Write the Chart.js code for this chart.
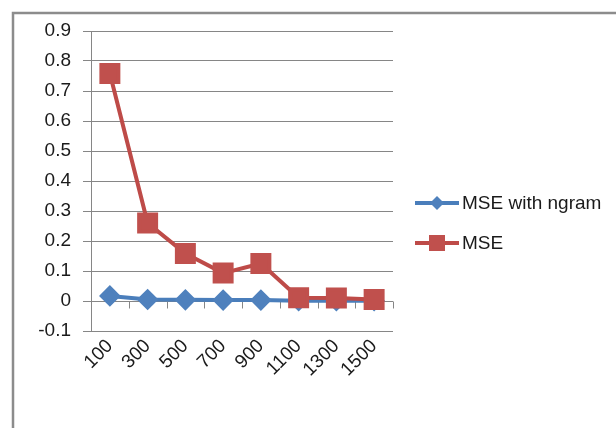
<!DOCTYPE html>
<html>
<head>
<meta charset="utf-8">
<script src="https://cdn.jsdelivr.net/npm/chart.js@4"></script>
<style>
  html, body { margin: 0; padding: 0; background: #fff; }
  #wrap { width: 616px; height: 428px; position: relative; }
</style>
</head>
<body>
<div id="wrap"><canvas id="mse"></canvas></div>
<script>
const categories = ["100", "300", "500", "700", "900", "1100", "1300", "1500"];
const mseNgram = [0.017, 0.005, 0.004, 0.003, 0.003, 0.001, 0.001, 0.001];
const mse = [0.758, 0.26, 0.158, 0.093, 0.125, 0.011, 0.01, 0.005];
const seriesNames = ["MSE with ngram", "MSE"];

const BLUE = "#4a7ebb";
const RED = "#be4b48";
const GRID = "#868686";
const FONT = "'Liberation Sans', Arial, sans-serif";

// gray frame around the whole chart object
const framePlugin = {
  id: "framePlugin",
  beforeDraw(chart) {
    const { ctx } = chart;
    ctx.save();
    ctx.strokeStyle = "#8c8c8c";
    ctx.lineWidth = 2.5;
    ctx.strokeRect(13, 13, 800, 600);
    ctx.restore();
  },
};

// small category ticks hanging under the zero line
const zeroTicksPlugin = {
  id: "zeroTicksPlugin",
  beforeDatasetsDraw(chart) {
    const { ctx, scales } = chart;
    const x = scales.x;
    const y0 = Math.round(scales.y.getPixelForValue(0)) + 0.5;
    const step = x.width / categories.length;
    ctx.save();
    ctx.strokeStyle = GRID;
    ctx.lineWidth = 1;
    ctx.beginPath();
    for (let i = 1; i <= categories.length; i++) {
      const px = Math.round(x.left + step * i) + 0.5;
      ctx.moveTo(px, y0);
      ctx.lineTo(px, y0 + 7);
    }
    ctx.stroke();
    ctx.restore();
  },
};

// Excel-style legend on the right
const sideLegendPlugin = {
  id: "sideLegendPlugin",
  afterDraw(chart) {
    const { ctx } = chart;
    const rows = [
      { y: 203, ds: chart.data.datasets[0] },
      { y: 243, ds: chart.data.datasets[1] },
    ];
    ctx.save();
    rows.forEach(({ y, ds }) => {
      ctx.strokeStyle = ds.borderColor;
      ctx.lineWidth = 4;
      ctx.beginPath();
      ctx.moveTo(415, y);
      ctx.lineTo(459, y);
      ctx.stroke();
      ctx.fillStyle = ds.pointBackgroundColor;
      if (ds.pointStyle === "rect") {
        ctx.fillRect(437 - 8, y - 8, 16, 16);
      } else {
        ctx.beginPath();
        ctx.moveTo(437, y - 7);
        ctx.lineTo(444, y);
        ctx.lineTo(437, y + 7);
        ctx.lineTo(430, y);
        ctx.closePath();
        ctx.fill();
      }
      ctx.fillStyle = "#1a1a1a";
      ctx.font = "19px " + FONT;
      ctx.textBaseline = "middle";
      ctx.textAlign = "left";
      ctx.fillText(ds.label, 462, y + 1);
    });
    ctx.restore();
  },
};

new Chart(document.getElementById("mse"), {
  type: "line",
  data: {
    labels: categories,
    datasets: [
      {
        label: seriesNames[0],
        data: mseNgram,
        borderColor: BLUE,
        backgroundColor: BLUE,
        pointBackgroundColor: "#4f81bd",
        pointBorderColor: "#4f81bd",
        pointStyle: "rectRot",
        pointRadius: 8,
        borderWidth: 4,
        tension: 0,
        order: 1,
      },
      {
        label: seriesNames[1],
        data: mse,
        borderColor: RED,
        backgroundColor: RED,
        pointBackgroundColor: "#c0504d",
        pointBorderColor: "#c0504d",
        pointStyle: "rect",
        pointRadius: 12,
        borderWidth: 4,
        tension: 0,
        order: 0,
      },
    ],
  },
  options: {
    responsive: true,
    maintainAspectRatio: false,
    animation: false,
    layout: {
      padding: { top: 31, right: 223, bottom: 0, left: 0 },
    },
    plugins: {
      legend: { display: false },
      tooltip: { enabled: false },
    },
    scales: {
      x: {
        offset: true,
        grid: { display: false, drawTicks: false },
        border: { display: false },
        ticks: {
          autoSkip: false,
          minRotation: 45,
          maxRotation: 45,
          padding: 4,
          color: "#1a1a1a",
          font: { family: FONT, size: 19 },
        },
        afterFit: (scale) => {
          scale.height = 97;
        },
      },
      y: {
        min: -0.1,
        max: 0.9,
        grid: {
          color: GRID,
          lineWidth: 1,
          tickLength: 8,
        },
        border: { display: true, color: GRID, width: 1 },
        ticks: {
          stepSize: 0.1,
          padding: 12,
          color: "#1a1a1a",
          font: { family: FONT, size: 19 },
          callback: (v) => (Math.abs(v) < 1e-9 ? "0" : Number(v).toFixed(1)),
        },
        afterFit: (scale) => {
          scale.width = 91;
        },
      },
    },
  },
  plugins: [framePlugin, zeroTicksPlugin, sideLegendPlugin],
});
</script>
</body>
</html>
